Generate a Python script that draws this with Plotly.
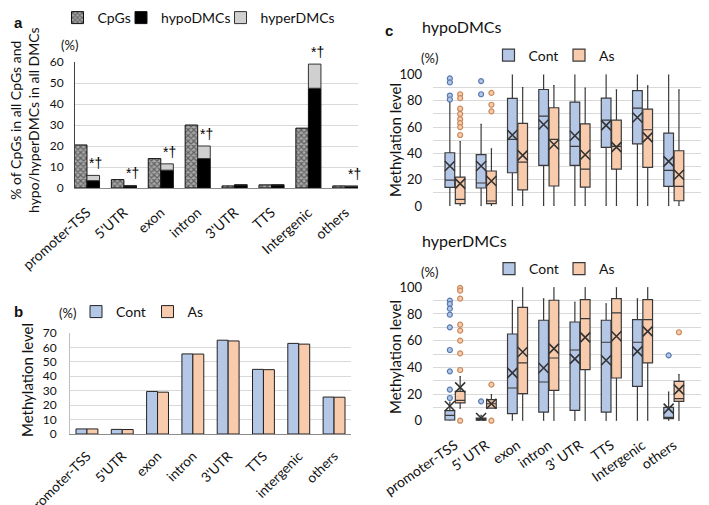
import plotly.graph_objects as go

W, H = 709, 505
def px(x): return x / W
def py(y): return 1 - y / H

FONT = "Lato"
CONT = "#B4C7E7"
AS = "#F8CBAD"
EDGE = "#3a3a3a"

# ---------------- Panel a data ----------------
regions_a = ["promoter-TSS", "5'UTR", "exon", "intron", "3'UTR", "TTS", "Intergenic", "others"]
cpgs_pct = [20.5, 4.0, 14.0, 30.0, 1.0, 1.5, 28.5, 1.0]
hypo_pct = [3.5, 1.0, 8.5, 14.0, 1.5, 1.5, 47.5, 0.8]
hyper_pct = [2.5, 0.2, 3.0, 6.0, 0.1, 0.1, 11.5, 0.1]
signif_a = ["*†", "*†", "*†", "*†", "", "", "*†", "*†"]

# ---------------- Panel b data ----------------
regions_b = ["promoter-TSS", "5'UTR", "exon", "intron", "3'UTR", "TTS", "intergenic", "others"]
meth_cont = [3.5, 3.2, 29.5, 55.5, 65.0, 44.8, 62.8, 25.6]
meth_as = [3.5, 3.1, 29.0, 55.4, 64.5, 44.6, 62.3, 25.5]

# ---------------- Panel c data ----------------
regions_c = ["promoter-TSS", "5' UTR", "exon", "intron", "3' UTR", "TTS", "Intergenic", "others"]

hypo_cont_q1 = [14.2, 13.7, 25.3, 30.9, 30.9, 44.6, 47.3, 15.0]
hypo_cont_med = [19.7, 17.5, 50.6, 68.4, 45.3, 65.3, 74.4, 27.1]
hypo_cont_q3 = [40.5, 39.0, 81.8, 88.6, 79.0, 82.0, 87.8, 55.4]
hypo_cont_lo = [0, 0, 0, 0, 0, 0, 0, 0]
hypo_cont_hi = [79, 62, 100, 100, 100, 100, 100, 100]
hypo_cont_mean = [30.4, 30.4, 54.0, 62.0, 53.4, 61.3, 67.3, 33.9]
hypo_cont_out = [[97, 94, 84, 81], [95, 85], [], [], [], [], [], []]

hypo_as_q1 = [1.8, 1.8, 12.2, 15.2, 14.4, 28.1, 29.4, 4.0]
hypo_as_med = [5.0, 3.8, 33.4, 50.6, 28.1, 45.3, 58.0, 15.0]
hypo_as_q3 = [22.0, 26.6, 62.8, 74.7, 62.5, 65.3, 73.7, 42.0]
hypo_as_lo = [0, 0, 0, 0, 0, 0, 0, 0]
hypo_as_hi = [49, 43.5, 90, 91.6, 89.6, 88.3, 91.4, 88.3]
hypo_as_mean = [17.0, 19.0, 38.5, 46.8, 39.0, 44.8, 52.2, 23.8]
hypo_as_out = [[85, 82, 74, 70, 66, 63, 60, 54], [86, 77, 72], [], [], [], [], [], []]

hyper_cont_q1 = [0.5, 0.0, 5.3, 6.5, 7.8, 6.5, 25.8, 1.5]
hyper_cont_med = [4.0, 1.0, 24.5, 29.0, 53.0, 58.8, 58.8, 2.5]
hyper_cont_q3 = [7.5, 2.0, 65.0, 75.3, 74.0, 75.3, 75.8, 10.0]
hyper_cont_lo = [0, 0, 0, 0, 0, 0, 0, 0]
hyper_cont_hi = [14, 4, 90, 91.3, 88.8, 87.5, 91.3, 21.5]
hyper_cont_mean = [11.0, 2.0, 35.8, 39.5, 46.3, 45.3, 52.0, 9.0]
hyper_cont_out = [[90, 87.5, 84, 79.5, 70, 53, 37, 23.3, 17], [14.5], [], [], [], [], [], [49]]

hyper_as_q1 = [13.3, 9.5, 20.3, 22.8, 38.3, 32.0, 43.3, 14.5]
hyper_as_med = [15.3, 12.7, 43.3, 47.0, 76.5, 80.8, 75.8, 16.5]
hyper_as_q3 = [22.0, 15.8, 85.0, 90.3, 90.8, 91.5, 90.8, 29.5]
hyper_as_lo = [9.5, 9.5, 0, 0, 0, 0, 0, 0]
hyper_as_hi = [33, 19.5, 100, 100, 100, 100, 100, 34.5]
hyper_as_mean = [25.0, 12.7, 51.5, 54.0, 62.5, 63.3, 67.0, 23.3]
hyper_as_out = [[99.5, 97.5, 91.5, 72, 67.5, 60, 50.5, 38, 0], [27, 0], [], [], [], [], [], [66.3]]

fig = go.Figure()

# ---------------- Panel a ----------------
xa = list(range(len(regions_a)))
BW_A = 0.34
fig.add_trace(go.Bar(
    x=xa, y=cpgs_pct, width=BW_A, offset=-BW_A, name="CpGs",
    marker=dict(color="#8a8a8a", line=dict(color="#111", width=1),
                pattern=dict(shape="x", fgcolor="#1a1a1a", bgcolor="#a8a8a8", size=4, solidity=0.5)),
    xaxis="x", yaxis="y", legend="legend", hoverinfo="skip"))
fig.add_trace(go.Bar(
    x=xa, y=hypo_pct, width=BW_A, offset=0, name="hypoDMCs",
    marker=dict(color="#000000", line=dict(color="#111", width=1)),
    xaxis="x", yaxis="y", legend="legend2", hoverinfo="skip"))
fig.add_trace(go.Bar(
    x=xa, y=hyper_pct, base=hypo_pct, width=BW_A, offset=0, name="hyperDMCs",
    marker=dict(color="#d0d0d0", line=dict(color="#333", width=1)),
    xaxis="x", yaxis="y", legend="legend3", hoverinfo="skip"))

# ---------------- Panel b ----------------
xb = list(range(len(regions_b)))
BW_B = 0.31
fig.add_trace(go.Bar(
    x=xb, y=meth_cont, width=BW_B, offset=-BW_B, name="Cont",
    marker=dict(color=CONT, line=dict(color="#222", width=1)),
    xaxis="x2", yaxis="y2", legend="legend4", hoverinfo="skip"))
fig.add_trace(go.Bar(
    x=xb, y=meth_as, width=BW_B, offset=0, name="As",
    marker=dict(color=AS, line=dict(color="#222", width=1)),
    xaxis="x2", yaxis="y2", legend="legend5", hoverinfo="skip"))

# ---------------- Panel c ----------------
OFF = 0.165
BOXW = 0.31

def add_group(q1, med, q3, lo, hi, mean, outs, offset, fill, outline, name, xax, yax, legend):
    pos = [i + offset for i in range(len(regions_c))]
    fig.add_trace(go.Box(
        x=pos, q1=q1, median=med, q3=q3, lowerfence=lo, upperfence=hi,
        width=BOXW, fillcolor=fill, line=dict(color=EDGE, width=1.2),
        whiskerwidth=0.15, boxpoints=False, name=name, orientation="v",
        xaxis=xax, yaxis=yax, legend=legend, hoverinfo="skip"))
    fig.add_trace(go.Scatter(
        x=pos, y=mean, mode="markers", showlegend=False, hoverinfo="skip",
        marker=dict(symbol="x-thin-open", size=10, color="#333", line=dict(color="#333", width=1.6)),
        xaxis=xax, yaxis=yax))
    ox, oy = [], []
    for i, vals in enumerate(outs):
        for v in vals:
            ox.append(i + offset)
            oy.append(v)
    fig.add_trace(go.Scatter(
        x=ox, y=oy, mode="markers", showlegend=False, hoverinfo="skip", cliponaxis=False,
        marker=dict(symbol="circle", size=5, color=fill, line=dict(color=outline, width=1.2)),
        xaxis=xax, yaxis=yax))

add_group(hypo_cont_q1, hypo_cont_med, hypo_cont_q3, hypo_cont_lo, hypo_cont_hi, hypo_cont_mean,
          hypo_cont_out, -OFF, CONT, "#5a7bb0", "Cont", "x3", "y3", "legend6")
add_group(hypo_as_q1, hypo_as_med, hypo_as_q3, hypo_as_lo, hypo_as_hi, hypo_as_mean,
          hypo_as_out, OFF, AS, "#c98a5c", "As", "x3", "y3", "legend7")
add_group(hyper_cont_q1, hyper_cont_med, hyper_cont_q3, hyper_cont_lo, hyper_cont_hi, hyper_cont_mean,
          hyper_cont_out, -OFF, CONT, "#5a7bb0", "Cont", "x4", "y4", "legend8")
add_group(hyper_as_q1, hyper_as_med, hyper_as_q3, hyper_as_lo, hyper_as_hi, hyper_as_mean,
          hyper_as_out, OFF, AS, "#c98a5c", "As", "x4", "y4", "legend9")

# ---------------- Axes ----------------
GRID = "#d9d9d9"
tickf = dict(family=FONT, size=12, color="#111")

def legend_at(xc, yc):
    return dict(x=px(xc - 28), y=py(yc), xanchor="left", yanchor="middle", orientation="h",
                font=dict(family=FONT, size=14, color="#111"), bgcolor="rgba(0,0,0,0)",
                borderwidth=0, itemclick=False, itemdoubleclick=False)

fig.update_layout(
    width=W, height=H, autosize=False,
    margin=dict(l=0, r=0, t=0, b=0, pad=0, autoexpand=False),
    paper_bgcolor="white", plot_bgcolor="white",
    font=dict(family=FONT, color="#111"),
    barmode="overlay", boxmode="overlay",
    xaxis=dict(domain=[px(67), px(350)], range=[-0.325, 7.344], tickmode="array",
               tickvals=xa, ticktext=regions_a, tickangle=-42, tickfont=dict(family=FONT, size=14),
               showgrid=False, zeroline=False, showline=True, linecolor="#8c8c8c", linewidth=1,
               ticks="", anchor="y", ticklabelstandoff=10, ticklabeloverflow="allow"),
    yaxis=dict(domain=[py(180), py(54)], range=[0, 60], dtick=10, tickfont=tickf,
               showgrid=True, gridcolor=GRID, zeroline=False, showline=True, linecolor="#404040",
               linewidth=1, ticks="", anchor="x", ticklabelstandoff=8),
    xaxis2=dict(domain=[px(62), px(343)], range=[-0.48, 7.48], tickmode="array",
                tickvals=xb, ticktext=regions_b, tickangle=-45, tickfont=dict(family=FONT, size=13.5),
                showgrid=False, zeroline=False, showline=True, linecolor="#8c8c8c", linewidth=1,
                ticks="", anchor="y2", ticklabelstandoff=8, ticklabeloverflow="allow"),
    yaxis2=dict(domain=[py(426), py(325)], range=[0, 70], dtick=10, tickfont=tickf,
                showgrid=True, gridcolor=GRID, zeroline=False, showline=True, linecolor="#bfbfbf",
                linewidth=1, ticks="", anchor="x2", ticklabelstandoff=10),
    xaxis3=dict(domain=[px(425), px(698)], range=[-0.704, 8.03], showticklabels=False,
                tickvals=list(range(len(regions_c))),
                showgrid=False, zeroline=False, showline=False, ticks="", anchor="y3"),
    yaxis3=dict(domain=[py(198), py(66.5)], range=[0, 100], dtick=20, tickfont=dict(family=FONT, size=13),
                showgrid=True, gridcolor=GRID, zeroline=False, showline=False, ticks="",
                minor=dict(dtick=10, showgrid=True, gridcolor=GRID),
                anchor="x3", ticklabelstandoff=10),
    xaxis4=dict(domain=[px(425), px(698)], range=[-0.704, 8.03], tickmode="array",
                tickvals=list(range(len(regions_c))), ticktext=regions_c, tickangle=-35,
                tickfont=dict(family=FONT, size=14),
                showgrid=False, zeroline=False, showline=False, ticks="", anchor="y4",
                ticklabelstandoff=13, ticklabeloverflow="allow"),
    yaxis4=dict(domain=[py(412.7), py(279.3)], range=[0, 100], dtick=20, tickfont=dict(family=FONT, size=13),
                showgrid=True, gridcolor=GRID, zeroline=False, showline=False, ticks="",
                minor=dict(dtick=10, showgrid=True, gridcolor=GRID),
                anchor="x4", ticklabelstandoff=10),
    legend=legend_at(77.5, 10),
    legend2=legend_at(141, 10),
    legend3=legend_at(240.5, 10),
    legend4=legend_at(96, 304),
    legend5=legend_at(167.5, 304),
    legend6=legend_at(508.5, 47.5),
    legend7=legend_at(579, 47.5),
    legend8=legend_at(509, 261),
    legend9=legend_at(579, 261),
)

# ---------------- Annotations ----------------
ann = []
def txt(x, y, s, size=13, bold=False, angle=0, xanchor="center", yanchor="middle"):
    ann.append(dict(x=px(x), y=py(y), xref="paper", yref="paper", text=("<b>%s</b>" % s) if bold else s,
                    showarrow=False, textangle=angle, xanchor=xanchor, yanchor=yanchor,
                    font=dict(family=FONT if not bold else "Liberation Sans", size=size, color="#111")))

txt(10, 14, "a", size=15, bold=True)
txt(10, 303, "b", size=15, bold=True)
txt(381, 22, "c", size=15, bold=True)
txt(61, 37, "(%)", size=13)
txt(59, 305, "(%)", size=13)
txt(421, 50, "(%)", size=13)
txt(421, 264, "(%)", size=13)
txt(412, 18, "hypoDMCs", size=16, xanchor="left")
txt(412, 233, "hyperDMCs", size=16, xanchor="left")
txt(17, 112, "% of CpGs in all CpGs and<br>hypo/hyperDMCs in all DMCs", size=14, angle=-90)
txt(19, 372, "Methylation level", size=15, angle=-90)
txt(387, 132, "Methylation level", size=15, angle=-90)
txt(387, 349, "Methylation level", size=15, angle=-90)

for i, s in enumerate(signif_a):
    if s:
        ann.append(dict(x=i + 0.24, y=hypo_pct[i] + hyper_pct[i], xref="x", yref="y", text=s,
                        showarrow=False, xanchor="center", yanchor="bottom", yshift=2,
                        font=dict(family="Liberation Sans", size=14, color="#000")))

fig.update_layout(annotations=ann)

fig.write_html("out.html")
